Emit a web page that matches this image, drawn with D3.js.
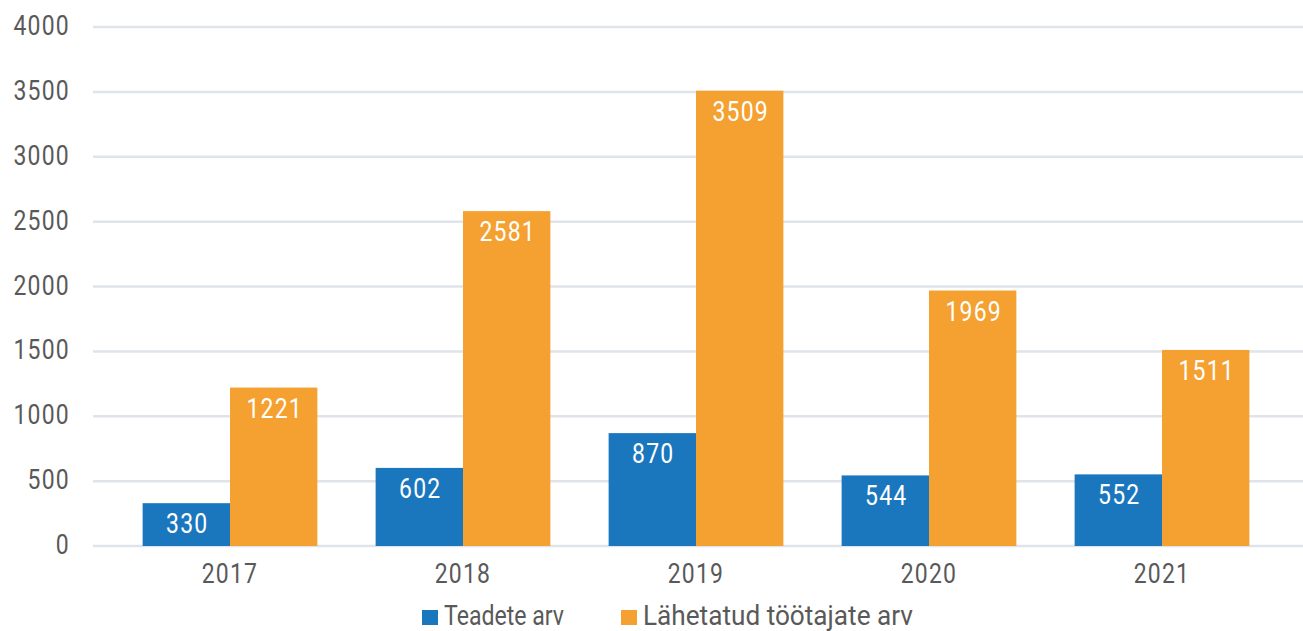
<!DOCTYPE html>
<html>
<head>
<meta charset="utf-8">
<script src="https://cdn.jsdelivr.net/npm/d3@7"></script>
<style>
  body { margin: 0; background: #fff; }
  text { font-family: Roboto, "Noto Sans", sans-serif; }
</style>
</head>
<body>
<svg id="chart" width="1303" height="631"></svg>
<script>
var years = ["2017", "2018", "2019", "2020", "2021"];
var teadete = [330, 602, 870, 544, 552];
var tootajad = [1221, 2581, 3509, 1969, 1511];
var seriesNames = ["Teadete arv", "Lähetatud töötajate arv"];
var colors = ["#1b77bd", "#f5a131"];
var yTicks = [0, 500, 1000, 1500, 2000, 2500, 3000, 3500, 4000];

var svg = d3.select("#chart");
var squeeze = 0.82; // condensed look

var x = d3.scaleBand()
    .domain(years)
    .range([113.5, 1278.5])
    .paddingInner(0.25)
    .paddingOuter(0.125);

var y = d3.scaleLinear()
    .domain([0, 4000])
    .range([546, 27]);

var sub = d3.scaleBand()
    .domain([0, 1])
    .range([0, x.bandwidth()]);

function numText(sel) {
    sel.attr("font-size", "28px")
       .attr("letter-spacing", "1.5px");
}

// gridlines
svg.append("g").selectAll("line")
    .data(yTicks)
    .enter().append("line")
    .attr("x1", 93).attr("x2", 1303)
    .attr("y1", d => y(d)).attr("y2", d => y(d))
    .attr("stroke", "#dfe3ea")
    .attr("stroke-width", 2.5);

// y axis labels
svg.append("g").selectAll("text")
    .data(yTicks)
    .enter().append("text")
    .attr("transform", d => "translate(70," + (y(d) + 8) + ") scale(" + squeeze + ",1)")
    .attr("text-anchor", "end")
    .attr("fill", "#595959")
    .call(numText)
    .text(d => d);

var rows = years.map((yr, i) => ({ year: yr, vals: [teadete[i], tootajad[i]] }));

var groups = svg.append("g").selectAll("g")
    .data(rows)
    .enter().append("g")
    .attr("transform", d => "translate(" + x(d.year) + ",0)");

groups.selectAll("rect")
    .data(d => d.vals.map((v, k) => ({ v: v, k: k })))
    .enter().append("rect")
    .attr("x", d => sub(d.k))
    .attr("y", d => y(d.v))
    .attr("width", sub.bandwidth())
    .attr("height", d => y(0) - y(d.v))
    .attr("fill", d => colors[d.k]);

groups.selectAll("text")
    .data(d => d.vals.map((v, k) => ({ v: v, k: k })))
    .enter().append("text")
    .attr("transform", d => "translate(" + (sub(d.k) + sub.bandwidth() / 2 + 1) + "," + (y(d.v) + 30) + ") scale(" + squeeze + ",1)")
    .attr("text-anchor", "middle")
    .attr("fill", "#fff")
    .call(numText)
    .text(d => d.v);

// x labels
svg.append("g").selectAll("text")
    .data(years)
    .enter().append("text")
    .attr("transform", d => "translate(" + (x(d) + x.bandwidth() / 2) + ",583) scale(" + squeeze + ",1)")
    .attr("text-anchor", "middle")
    .attr("fill", "#595959")
    .call(numText)
    .text(d => d);

// legend
var legendX = [422, 621];
var legendW = [120, 270];
var legend = svg.append("g").selectAll("g")
    .data(seriesNames)
    .enter().append("g")
    .attr("transform", (d, i) => "translate(" + legendX[i] + ",610)");

legend.append("rect")
    .attr("x", 0).attr("y", 0)
    .attr("width", 16).attr("height", 15)
    .attr("fill", (d, i) => colors[i]);

legend.append("text")
    .attr("x", 22)
    .attr("y", 15)
    .attr("font-size", "27px")
    .attr("textLength", (d, i) => legendW[i])
    .attr("lengthAdjust", "spacingAndGlyphs")
    .attr("fill", "#595959")
    .text(d => d);
</script>
</body>
</html>
